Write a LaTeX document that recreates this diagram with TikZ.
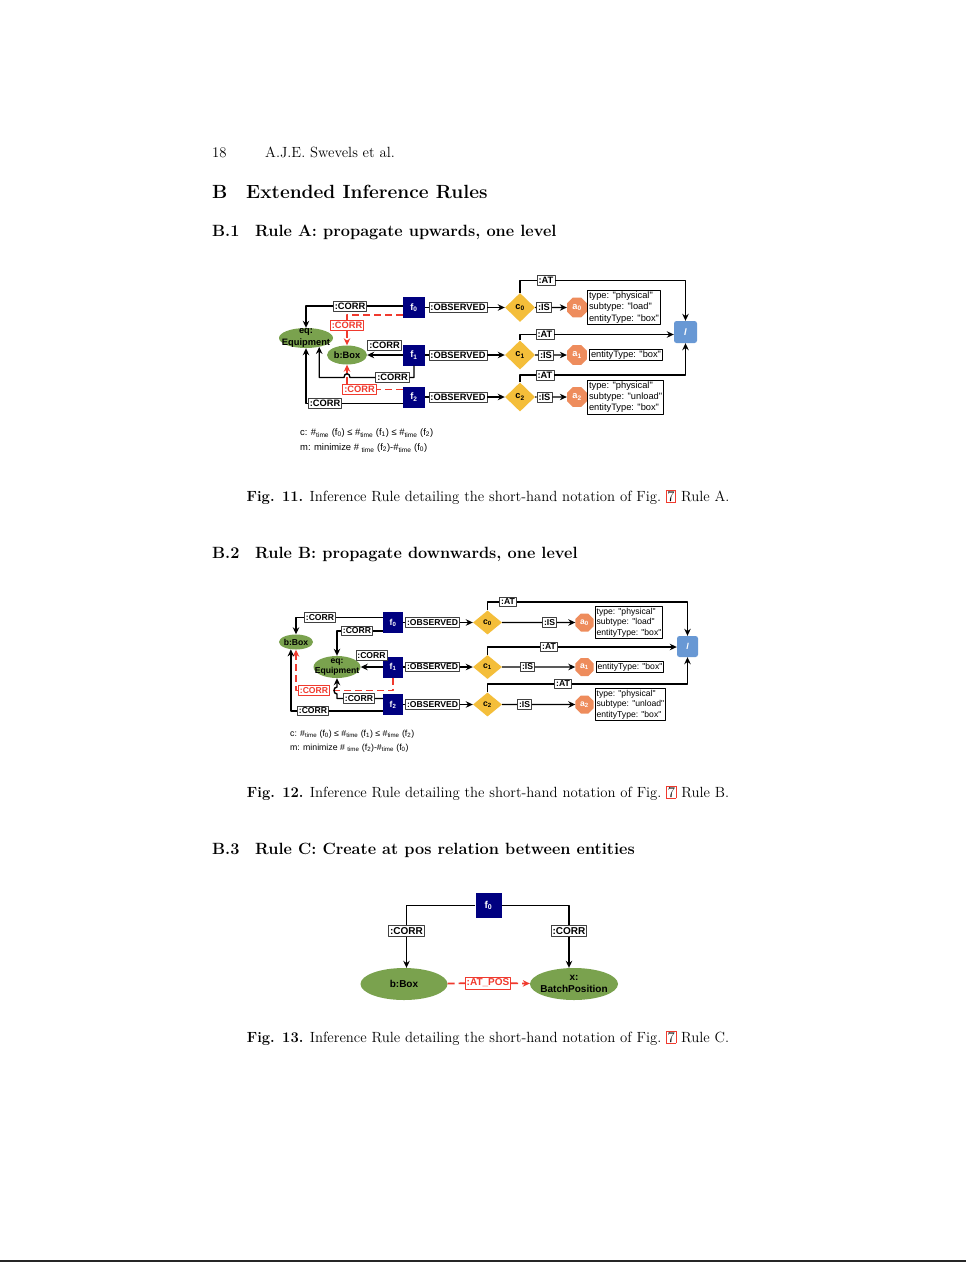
\documentclass[tikz,border=0pt]{standalone}
\usepackage{fontspec}
\usepackage{xcolor}
\usetikzlibrary{arrows.meta,calc,shapes.geometric,positioning}
\newfontfamily\diasans{Liberation Sans}
\definecolor{factnavy}{RGB}{0,0,128}
\definecolor{entgreen}{RGB}{122,162,78}
\definecolor{condgold}{RGB}{244,190,58}
\definecolor{actorange}{RGB}{238,140,92}
\definecolor{locblue}{RGB}{104,152,212}
\definecolor{corrred}{RGB}{240,58,46}
\newcommand\pgsize{\fontsize{14.75}{17.5}\selectfont}
\newcommand\secsize{\fontsize{19.1}{23}\selectfont}
\newcommand\subsize{\fontsize{16.3}{19}\selectfont}
\newcommand\dsize{\fontsize{9.3}{11.2}\selectfont}
\newcommand\reflink[1]{{\setlength{\fboxsep}{0.8pt}\setlength{\fboxrule}{0.7pt}\fcolorbox{corrred}{white}{#1}}}

\begin{document}
\begin{tikzpicture}[x=1pt,y=-1pt,line join=round,
 fact/.style={fill=factnavy,text=white,font=\diasans\bfseries\dsize,inner sep=0},
 lab/.style={draw=black!75,fill=white,font=\diasans\bfseries\dsize,inner xsep=1.5pt,inner ysep=1.8pt,line width=0.8pt},
 rlab/.style={lab,draw=corrred,text=corrred},
 ent/.style={ellipse,fill=entgreen,inner sep=0},
 enttxt/.style={font=\diasans\bfseries\dsize,align=center,inner sep=0},
 cond/.style={diamond,fill=condgold,font=\diasans\bfseries\dsize,inner sep=0},
 act/.style={regular polygon,regular polygon sides=8,fill=actorange,text=white,font=\diasans\bfseries\dsize,inner sep=0},
 attr/.style={draw,line width=0.8pt,font=\diasans\dsize,align=left,inner xsep=1.5pt,inner ysep=1.5pt},
 loc/.style={rounded corners=2.5pt,fill=locblue,text=white,font=\diasans\bfseries\itshape\dsize},
 link/.style={line width=1.4pt,-{Stealth[length=7pt,width=6.5pt]}},
 rlink/.style={link,draw=corrred,dash pattern=on 7pt off 4pt},
 cst/.style={anchor=west,font=\diasans\dsize,inner sep=0},
 txt/.style={anchor=base west,inner sep=0}]
 \fill[white] (0,0) rectangle (966,1262);
 \useasboundingbox (0,0) rectangle (966,1262);
 \draw[black!85,line width=2pt] (0,1261) -- (966,1261);

 \node[txt,font=\pgsize] (pgno) at (212,157) {18};
 \node[txt,font=\pgsize] (runhd) at (265,157) {A.J.E. Swevels et al.};
 \node[txt,font=\secsize\bfseries] (secB) at (212,198) {\makebox[34pt][l]{B}Extended Inference Rules};
 \node[txt,font=\subsize\bfseries] (subB1) at (212,236) {\makebox[43pt][l]{B.1}Rule A: propagate upwards, one level};
 \node[txt,font=\subsize\bfseries] (subB2) at (212,558) {\makebox[43pt][l]{B.2}Rule B: propagate downwards, one level};
 \node[txt,font=\subsize\bfseries] (subB3) at (212,854) {\makebox[43pt][l]{B.3}Rule C: Create at pos relation between entities};
 \node[anchor=base,inner sep=0,font=\pgsize] (cap11) at (488,501) {\textbf{Fig. 11.} Inference Rule detailing the short-hand notation of Fig.~\reflink{7} Rule A.};
 \node[anchor=base,inner sep=0,font=\pgsize] (cap12) at (488,797) {\textbf{Fig. 12.} Inference Rule detailing the short-hand notation of Fig.~\reflink{7} Rule B.};
 \node[anchor=base,inner sep=0,font=\pgsize] (cap13) at (488,1042) {\textbf{Fig. 13.} Inference Rule detailing the short-hand notation of Fig.~\reflink{7} Rule C.};

 % rule A
 \begin{scope}
 \renewcommand\dsize{\fontsize{9.3}{11.2}\selectfont}
 \foreach \i/\y/\s in {0/307.5/544,1/355/546,2/397/544.5}{
  \node[fact,minimum width=22pt,minimum height=21pt] (Af\i) at (414,\y) {f\textsubscript{\i}};
  \node[lab] (Ao\i) at (458,\y) {:OBSERVED};
  \node[cond,minimum width=30pt,minimum height=29pt] (Ac\i) at (520,\y) {c\textsubscript{\i}};
  \node[lab] (Ai\i) at (\s,\y) {:IS};
  \node[act,minimum size=21.5pt] (Aa\i) at (577,\y) {a\textsubscript{\i}};
  \draw[link] (Af\i) -- (Ao\i) -- (Ac\i);
  \draw[link] (Ac\i) -- (Ai\i) -- (Aa\i);
 }
 \node[attr,right=0pt of Aa0] (At0) {type: "physical"\\subtype: "load"\\entityType: "box"};
 \node[attr,right=2pt of Aa1] (At1) {entityType: "box"};
 \node[attr,right=0pt of Aa2] (At2) {type: "physical"\\subtype: "unload"\\entityType: "box"};
 \node[loc,minimum width=23pt,minimum height=22pt] (Al) at (685.5,332) {l};
 \node[lab] (Ab0) at (546,280.5) {:AT};
 \node[lab] (Ab1) at (545,334.5) {:AT};
 \node[lab] (Ab2) at (545,375) {:AT};
 \draw[link] (Ac0.north) |- (Ab0) -| (Al.north);
 \draw[link] (Ac1.north) |- (Ab1) -- (Al.west |- Ab1);
 \draw[link] (Ac2.north) |- (Ab2) -| (Al.south);

 \node[ent,minimum width=54pt,minimum height=20pt,label={[enttxt]center:{eq:\\Equipment}}] (Aeq) at (306,338) {};
 \node[ent,minimum width=40pt,minimum height=19pt,label={[enttxt]center:{b:Box}}] (Abx) at (347,355) {};
 \node[lab] (Ak0) at (350,306) {:CORR};
 \draw[link] (Af0.west |- Ak0) -- (Ak0) -| (Aeq.north);
 \node[rlab] (Ark0) at (347,325) {:CORR};
 \draw[rlink] (Af0.west |- 0,315) -| (Ark0) -- (Abx);
 \node[lab] (Ak1) at (384.5,345) {:CORR};
 \draw[link] (Af1) -- (Abx);
 \node[lab] (Ak2) at (392.5,377.5) {:CORR};
 \draw[link] (Af1.south) |- (Ak2) (Ak2.west) -- (350,377.5) .. controls (350,372.5) and (344,372.5) .. (344,377.5) -| (Aeq.-34);
 \node[rlab] (Ark1) at (359.5,389.5) {:CORR};
 \draw[rlink] (Af2.west |- Ark1) -- (Ark1) (Ark1.north -| Abx) -- (Abx);
 \node[lab] (Ak3) at (325,403.5) {:CORR};
 \draw[link] (Af2.west |- Ak3) -- (Ak3) -| (Aeq.south);
 \node[cst,font=\diasans\fontsize{9.4}{10}\selectfont] (Acs) at (300,433) {c: \#\textsubscript{time} (f\textsubscript{0}) ≤ \#\textsubscript{time} (f\textsubscript{1}) ≤ \#\textsubscript{time} (f\textsubscript{2})};
 \node[cst,font=\diasans\fontsize{9.4}{10}\selectfont] (Amn) at (300,448) {m: minimize \# \textsubscript{time} (f\textsubscript{2})-\#\textsubscript{time} (f\textsubscript{0})};
 \end{scope}

 % rule B
 \begin{scope}
 \renewcommand\dsize{\fontsize{8.6}{10.4}\selectfont}
 \foreach \i/\y/\s in {0/622.5/549.5,1/667/527.5,2/704.5/524.5}{
  \node[fact,minimum width=20pt,minimum height=21pt] (Bf\i) at (393,\y) {f\textsubscript{\i}};
  \node[lab] (Bo\i) at (432.5,\y) {:OBSERVED};
  \node[cond,minimum width=29pt,minimum height=24pt] (Bc\i) at (487.5,\y) {c\textsubscript{\i}};
  \node[lab] (Bi\i) at (\s,\y) {:IS};
  \node[act,minimum size=19.5pt] (Ba\i) at (584.5,\y) {a\textsubscript{\i}};
  \draw[link] (Bf\i) -- (Bo\i) -- (Bc\i);
  \draw[link] (Bc\i) -- (Bi\i) -- (Ba\i);
 }
 \node[attr,right=1pt of Ba0] (Bt0) {type: "physical"\\subtype: "load"\\entityType: "box"};
 \node[attr,right=2pt of Ba1] (Bt1) {entityType: "box"};
 \node[attr,right=1pt of Ba2] (Bt2) {type: "physical"\\subtype: "unload"\\entityType: "box"};
 \node[loc,minimum width=21pt,minimum height=21pt] (Bl) at (687.5,646.5) {l};
 \node[lab] (Bb0) at (508,602) {:AT};
 \node[lab] (Bb1) at (549,647) {:AT};
 \node[lab] (Bb2) at (563,684) {:AT};
 \draw[link] (Bc0.north) |- (Bb0) -| (Bl.north);
 \draw[link] (Bc1.north) |- (Bb1) -- (Bl.west |- Bb1);
 \draw[link] (Bc2.north) |- (Bb2) -| (Bl.south);

 \node[ent,minimum width=34pt,minimum height=15pt,label={[enttxt]center:{b:Box}}] (Bbx) at (296,642) {};
 \node[ent,minimum width=47pt,minimum height=22pt,label={[enttxt]center:{eq:\\Equipment}}] (Beq) at (337,667) {};
 \node[lab] (Bk0) at (320,617.5) {:CORR};
 \draw[link] (Bf0.west |- Bk0) -- (Bk0) -| (Bbx.north);
 \node[lab] (Bk1) at (357,631) {:CORR};
 \draw[link] (Bf0.west |- Bk1) -- (Bk1) -| (Beq.north);
 \node[lab] (Bk2) at (371.5,655.5) {:CORR};
 \draw[link] (Bf1) -- (Beq);
 \node[rlab] (Brk0) at (314,690.5) {:CORR};
 \draw[rlink] (Bf1.south) |- (Brk0) -| (Bbx.south);
 \node[lab] (Bk3) at (359,698.5) {:CORR};
 \draw[link] (Bf2.west |- Bk3) -- (Bk3) (Bk3.west) -| (337,694) .. controls (333,694) and (333,687) .. (337,687) -- (Beq.south);
 \node[lab] (Bk4) at (313,711) {:CORR};
 \draw[link] (Bf2.west |- Bk4) -- (Bk4) -| (Bbx.235);
 \node[cst,font=\diasans\fontsize{8.75}{10}\selectfont] (Bcs) at (290,734) {c: \#\textsubscript{time} (f\textsubscript{0}) ≤ \#\textsubscript{time} (f\textsubscript{1}) ≤ \#\textsubscript{time} (f\textsubscript{2})};
 \node[cst,font=\diasans\fontsize{8.75}{10}\selectfont] (Bmn) at (290,748) {m: minimize \# \textsubscript{time} (f\textsubscript{2})-\#\textsubscript{time} (f\textsubscript{0})};
 \end{scope}

 % rule C
 \begin{scope}[link/.append style={line width=1.7pt}]
 \renewcommand\dsize{\fontsize{10}{12}\selectfont}
 \node[fact,minimum width=26pt,minimum height=25pt] (Cf0) at (488.5,905.5) {f\textsubscript{0}};
 \node[ent,minimum width=87pt,minimum height=32pt,label={[enttxt]center:{b:Box}}] (Cbx) at (404,984) {};
 \node[ent,minimum width=88pt,minimum height=32pt,label={[enttxt]center:{x:\\BatchPosition}}] (Cxp) at (574,984) {};
 \node[lab] (Ck0) at (406.5,931) {:CORR};
 \node[lab] (Ck1) at (569,931) {:CORR};
 \draw[link] (Cf0) -| (Ck0) (Ck0.south) -- (Ck0.south |- Cbx.north);
 \draw[link] (Cf0) -| (Ck1) (Ck1.south) -- (Ck1.south |- Cxp.north);
 \node[rlab] (Crp) at (488,983) {:AT\_POS};
 \draw[rlink] (Cbx) -- (Crp) -- (Cxp);
 \end{scope}
\end{tikzpicture}
\end{document}
